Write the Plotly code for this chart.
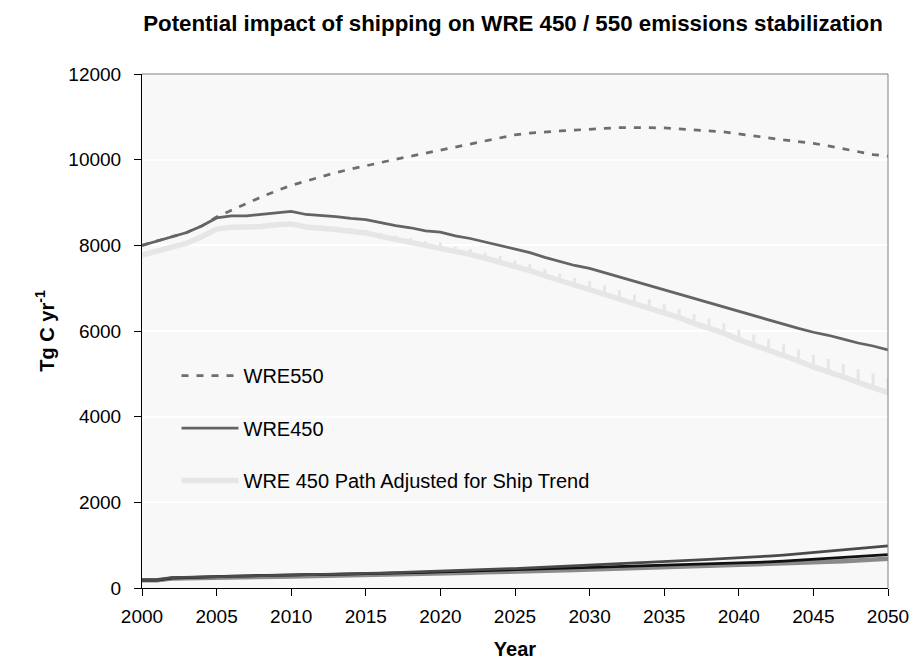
import plotly.graph_objects as go

years = list(range(2000, 2051))

wre550 = [8000, 8100, 8200, 8300, 8450, 8660, 8820, 8980, 9130, 9270,
          9400, 9500, 9600, 9700, 9780, 9860, 9940, 10010, 10080, 10150,
          10230, 10300, 10370, 10430, 10500, 10580, 10620, 10650, 10670, 10690,
          10710, 10740, 10750, 10750, 10750, 10740, 10720, 10700, 10680, 10650,
          10600, 10560, 10510, 10460, 10420, 10380, 10320, 10250, 10180, 10120,
          10080]

wre450 = [8000, 8100, 8200, 8300, 8450, 8640, 8690, 8690, 8720, 8760,
          8790, 8720, 8700, 8670, 8630, 8600, 8530, 8460, 8410, 8340,
          8310, 8220, 8160, 8080, 8000, 7910, 7830, 7720, 7620, 7530,
          7460, 7360, 7260, 7160, 7060, 6960, 6860, 6750, 6650, 6550,
          6450, 6350, 6260, 6160, 6060, 5970, 5900, 5810, 5720, 5650,
          5560]

wre450_ship_adjusted = [7770, 7860, 7950, 8050, 8200, 8380, 8420, 8420, 8440, 8480,
                        8500, 8430, 8410, 8370, 8330, 8290, 8210, 8140, 8080, 8000,
                        7960, 7860, 7790, 7700, 7610, 7500, 7410, 7290, 7180, 7070,
                        6990, 6880, 6770, 6660, 6540, 6420, 6310, 6180, 6070, 5950,
                        5800, 5680, 5560, 5430, 5300, 5160, 5060, 4930, 4800, 4690,
                        4560]

# spread of the ship-trend adjustment above the adjusted path (drawn as ticks)
ship_trend_spread = [0, 0, 0, 0, 0, 0, 0, 0, 20, 30,
                     40, 50, 55, 60, 65, 70, 80, 90, 95, 100,
                     110, 115, 125, 130, 140, 150, 155, 160, 165, 170,
                     175, 180, 185, 190, 200, 205, 210, 215, 220, 225,
                     230, 240, 250, 260, 270, 280, 290, 300, 310, 320,
                     340]

ship_high = [190, 190, 240, 250, 260, 270, 275, 285, 290, 295,
             300, 305, 310, 320, 330, 340, 350, 360, 370, 380,
             390, 400, 410, 425, 440, 455, 470, 485, 500, 515,
             530, 545, 560, 575, 590, 610, 630, 650, 670, 685,
             705, 725, 745, 770, 800, 830, 860, 890, 920, 950,
             985]

ship_mid = [185, 185, 230, 245, 255, 265, 275, 285, 295, 300,
            305, 310, 315, 320, 325, 335, 345, 350, 360, 365,
            375, 385, 395, 405, 415, 425, 435, 445, 455, 465,
            475, 485, 495, 505, 515, 525, 535, 545, 555, 570,
            580, 595, 610, 625, 645, 665, 685, 705, 725, 750,
            780]

ship_low = [180, 180, 220, 230, 240, 245, 250, 255, 260, 265,
            270, 275, 280, 285, 290, 300, 305, 315, 320, 330,
            340, 345, 355, 365, 370, 380, 390, 400, 410, 420,
            430, 440, 450, 455, 465, 475, 485, 495, 505, 515,
            530, 540, 550, 565, 575, 590, 610, 625, 640, 660,
            680]

y_ticks = [0, 2000, 4000, 6000, 8000, 10000, 12000]
x_ticks = list(range(2000, 2051, 5))

FONT = "Liberation Sans, Arial, sans-serif"
PLOT_BG = "#f8f8f8"
TICK_SIZE = 19
TEXT_SIZE = 20

fig = go.Figure()

fig.add_trace(go.Scatter(
    x=years, y=wre550, mode="lines", name="WRE550",
    line=dict(color="#6e6e6e", width=2.75, dash="7px,8px"),
    legendgroup="a",
))
fig.add_trace(go.Scatter(
    x=years, y=wre450, mode="lines", name="WRE450",
    line=dict(color="#646464", width=2.75),
    legendgroup="b",
))
fig.add_trace(go.Scatter(
    x=years, y=wre450_ship_adjusted, mode="lines",
    name="WRE 450 Path Adjusted for Ship Trend",
    line=dict(color="#e6e6e6", width=5.5),
    error_y=dict(type="data", symmetric=False, array=ship_trend_spread,
                 arrayminus=[0] * len(years), width=0, thickness=3,
                 color="#e6e6e6"),
    legendgroup="c",
))
fig.add_trace(go.Scatter(
    x=years, y=ship_low, mode="lines", showlegend=False,
    line=dict(color="#8a8a8a", width=4.5),
))
fig.add_trace(go.Scatter(
    x=years, y=ship_mid, mode="lines", showlegend=False,
    line=dict(color="#111111", width=2.75),
))
fig.add_trace(go.Scatter(
    x=years, y=ship_high, mode="lines", showlegend=False,
    line=dict(color="#4a4a4a", width=2.75),
))

# legend panel: plot-coloured block hiding the gridlines behind the key
fig.add_shape(type="rect", xref="paper", yref="paper",
              x0=10 / 746, x1=483 / 746, y0=80 / 514, y1=245 / 514,
              fillcolor=PLOT_BG, line=dict(width=0), layer="between")
# top and right frame of the plot area
fig.add_shape(type="line", xref="paper", yref="paper", x0=0, x1=1, y0=1, y1=1,
              line=dict(color="#808080", width=1))
fig.add_shape(type="line", xref="paper", yref="paper", x0=1, x1=1, y0=0, y1=1,
              line=dict(color="#808080", width=1))

fig.update_layout(
    width=909, height=670,
    margin=dict(l=142, r=21, t=74, b=82, autoexpand=False),
    paper_bgcolor="white",
    plot_bgcolor=PLOT_BG,
    font=dict(family=FONT, size=TEXT_SIZE, color="black"),
    title=dict(
        text="<b>Potential impact of shipping on WRE 450 / 550 emissions stabilization</b>",
        x=513 / 909, xanchor="center", y=1 - 23 / 670, yanchor="middle",
        font=dict(family=FONT, size=22.3, color="black"),
    ),
    showlegend=True,
    legend=dict(
        x=34.5 / 746, xanchor="left", y=232 / 514, yanchor="top",
        bgcolor="rgba(0,0,0,0)", borderwidth=0,
        font=dict(family=FONT, size=TEXT_SIZE, color="black"),
        itemwidth=57, tracegroupgap=23.5,
    ),
    xaxis=dict(
        range=[2000, 2050], tickvals=x_ticks, ticktext=[str(v) for v in x_ticks],
        showgrid=False, zeroline=False, automargin=False,
        showline=True, linecolor="black", linewidth=1,
        ticks="outside", ticklen=7, tickcolor="black", tickwidth=1,
        ticklabelstandoff=4, ticklabeloverflow="allow",
        tickfont=dict(family=FONT, size=TICK_SIZE, color="black"),
        title=dict(text="<b>Year</b>", standoff=16,
                   font=dict(family=FONT, size=TEXT_SIZE, color="black")),
    ),
    yaxis=dict(
        range=[0, 12000], tickvals=y_ticks, ticktext=[str(v) for v in y_ticks],
        showgrid=True, gridcolor="white", gridwidth=2, zeroline=False,
        automargin=False,
        showline=True, linecolor="black", linewidth=1,
        ticks="outside", ticklen=7, tickcolor="black", tickwidth=1,
        ticklabelstandoff=9,
        tickfont=dict(family=FONT, size=TICK_SIZE, color="black"),
        title=dict(text="<b>Tg C yr<sup>-1</sup></b>", standoff=8,
                   font=dict(family=FONT, size=TEXT_SIZE, color="black")),
    ),
)

fig.write_html("out.html")
